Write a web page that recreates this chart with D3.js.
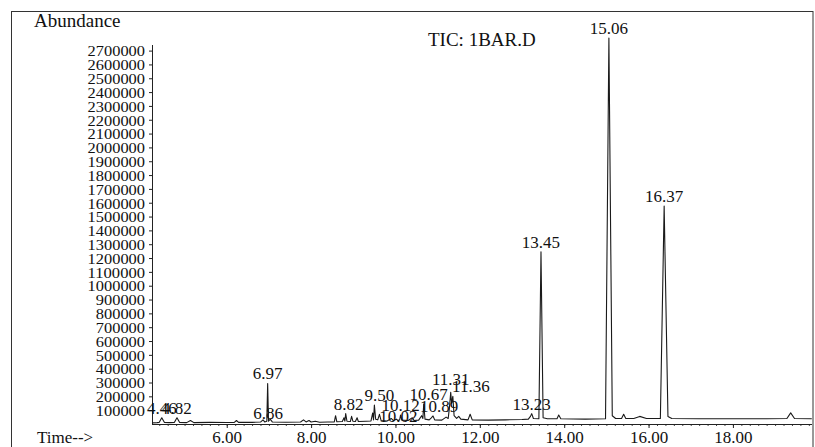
<!DOCTYPE html>
<html>
<head>
<meta charset="utf-8">
<script src="https://cdn.jsdelivr.net/npm/d3@7"></script>
<style>
  html, body { margin: 0; padding: 0; background: #fff; }
  svg { display: block; }
  text { font-family: "Liberation Serif", "DejaVu Serif", serif; fill: #111; }
</style>
</head>
<body>
<svg id="chart" width="815" height="447"></svg>
<script>
// ---- data ----
const times = [4.23,4.35,4.40,4.46,4.52,4.65,4.76,4.82,4.88,5.05,5.14,5.22,5.60,6.00,6.18,6.23,6.28,6.60,6.80,6.86,6.90,6.95,6.97,6.99,7.03,7.08,7.40,7.75,7.82,7.88,7.95,8.00,8.10,8.20,8.40,8.55,8.58,8.61,8.74,8.78,8.80,8.82,8.85,8.93,8.96,8.99,9.05,9.09,9.12,9.30,9.42,9.46,9.48,9.50,9.53,9.58,9.62,9.66,9.80,9.90,9.95,10.02,10.06,10.10,10.12,10.15,10.30,10.40,10.44,10.55,10.62,10.65,10.67,10.70,10.80,10.85,10.89,10.93,11.10,11.20,11.25,11.28,11.31,11.33,11.36,11.39,11.45,11.50,11.55,11.72,11.77,11.82,12.20,12.60,13.00,13.15,13.20,13.23,13.27,13.40,13.45,13.50,13.60,13.83,13.87,13.92,14.50,14.98,15.06,15.14,15.22,15.36,15.41,15.46,15.65,15.79,15.95,16.28,16.37,16.46,16.55,17.20,18.00,18.80,19.28,19.37,19.46,19.87];
const abundance = [8000,10000,12000,45000,12000,10000,12000,45000,12000,10000,25000,10000,12000,11000,12000,25000,12000,12000,14000,30000,15000,20000,293000,20000,35000,15000,13000,14000,30000,15000,25000,14000,20000,13000,15000,15000,60000,16000,18000,45000,20000,75000,20000,18000,55000,20000,18000,45000,18000,20000,22000,80000,30000,137000,35000,30000,70000,25000,22000,40000,25000,35000,25000,30000,65000,28000,25000,45000,25000,28000,60000,40000,145000,35000,30000,45000,58000,30000,28000,50000,40000,120000,230000,150000,200000,60000,40000,55000,35000,30000,70000,30000,28000,30000,32000,35000,55000,75000,40000,38000,1246000,45000,38000,38000,65000,38000,35000,38000,2791000,60000,40000,40000,70000,40000,40000,55000,40000,40000,1576000,55000,40000,38000,38000,38000,40000,80000,40000,38000];
const peakLabels = ["4.46","4.82","6.86","6.97","8.82","9.50","10.02","10.12","10.67","10.89","11.31","11.36","13.23","13.45","15.06","16.37"];
const yTickValues = [100000,200000,300000,400000,500000,600000,700000,800000,900000,1000000,1100000,1200000,1300000,1400000,1500000,1600000,1700000,1800000,1900000,2000000,2100000,2200000,2300000,2400000,2500000,2600000,2700000];
const xTickValues = [6,8,10,12,14,16,18];
const titleText = "TIC: 1BAR.D";
const yTitle = "Abundance";
const xTitle = "Time-->";

// ---- layout (label nudges in px, not data) ----
const labelNudge = {"6.86":[5,3],"8.82":[3,0],"9.50":[5,0],"10.02":[2,7],"10.67":[5,0],"10.89":[6,0],"11.31":[0,-3],"11.36":[18,0]};

const svg = d3.select("#chart");
const x = d3.scaleLinear().domain([4.228, 19.875]).range([152, 812]);
const y = d3.scaleLinear().domain([0, 2700000]).range([424, 50.6]);

// frame
svg.append("rect").attr("x",11.5).attr("y",11.5).attr("width",801.5).attr("height",460)
  .attr("fill","none").attr("stroke","#333").attr("stroke-width",1);

// y axis
const yAxis = d3.axisLeft(y).tickValues(yTickValues).tickSize(3).tickPadding(4).tickFormat(d3.format("d"));
const gy = svg.append("g").attr("transform","translate(152,0)").call(yAxis);
gy.select(".domain").attr("d","M0.5,45V424.5").attr("stroke","#222");
gy.selectAll(".tick line").attr("stroke","#222");
gy.selectAll(".tick text").attr("font-size",15.5).attr("font-family","Liberation Serif, serif").attr("fill","#111")
  .attr("dy","0.34em")
  .attr("textLength", d => String(d).length * 8.2).attr("lengthAdjust","spacingAndGlyphs");

// x axis
const minor = d3.range(4.4, 19.9, 0.2);
svg.append("g").attr("transform","translate(0,424)")
  .call(d3.axisBottom(x).tickValues(minor).tickSize(2).tickFormat(""))
  .call(g => g.select(".domain").remove())
  .selectAll("line").attr("stroke","#444");
const gx = svg.append("g").attr("transform","translate(0,424)")
  .call(d3.axisBottom(x).tickValues(xTickValues).tickSize(4).tickPadding(6).tickFormat(d3.format(".2f")));
gx.select(".domain").attr("d","M152,0.5H812").attr("stroke","#222");
gx.selectAll(".tick line").attr("stroke","#222");
gx.selectAll(".tick text").attr("font-size",17).attr("font-family","Liberation Serif, serif").attr("fill","#111")
  .attr("y",0).attr("dy",0).attr("transform","translate(0,18.5)");

// trace
const pts = times.map((t,i)=>[t, abundance[i]]);
svg.append("path").datum(pts)
  .attr("d", d3.line().x(d=>x(d[0])).y(d=>y(d[1])))
  .attr("fill","none").attr("stroke","#1a1a1a").attr("stroke-width",1.1).attr("stroke-linejoin","round");

// peak labels
svg.append("g").selectAll("text").data(peakLabels).join("text")
  .attr("x", d => x(+d) + ((labelNudge[d]||[0,0])[0]))
  .attr("y", d => {
    const i = times.indexOf(+d);
    return y(abundance[i]) - 4 + ((labelNudge[d]||[0,0])[1]);
  })
  .attr("text-anchor","middle").attr("font-size",17).text(d=>d);

// titles
svg.append("text").attr("x",34).attr("y",27).attr("font-size",19).text(yTitle);
svg.append("text").attr("x",428).attr("y",46).attr("font-size",19).text(titleText);
svg.append("text").attr("x",37).attr("y",443).attr("font-size",17).text(xTitle);
</script>
</body>
</html>
